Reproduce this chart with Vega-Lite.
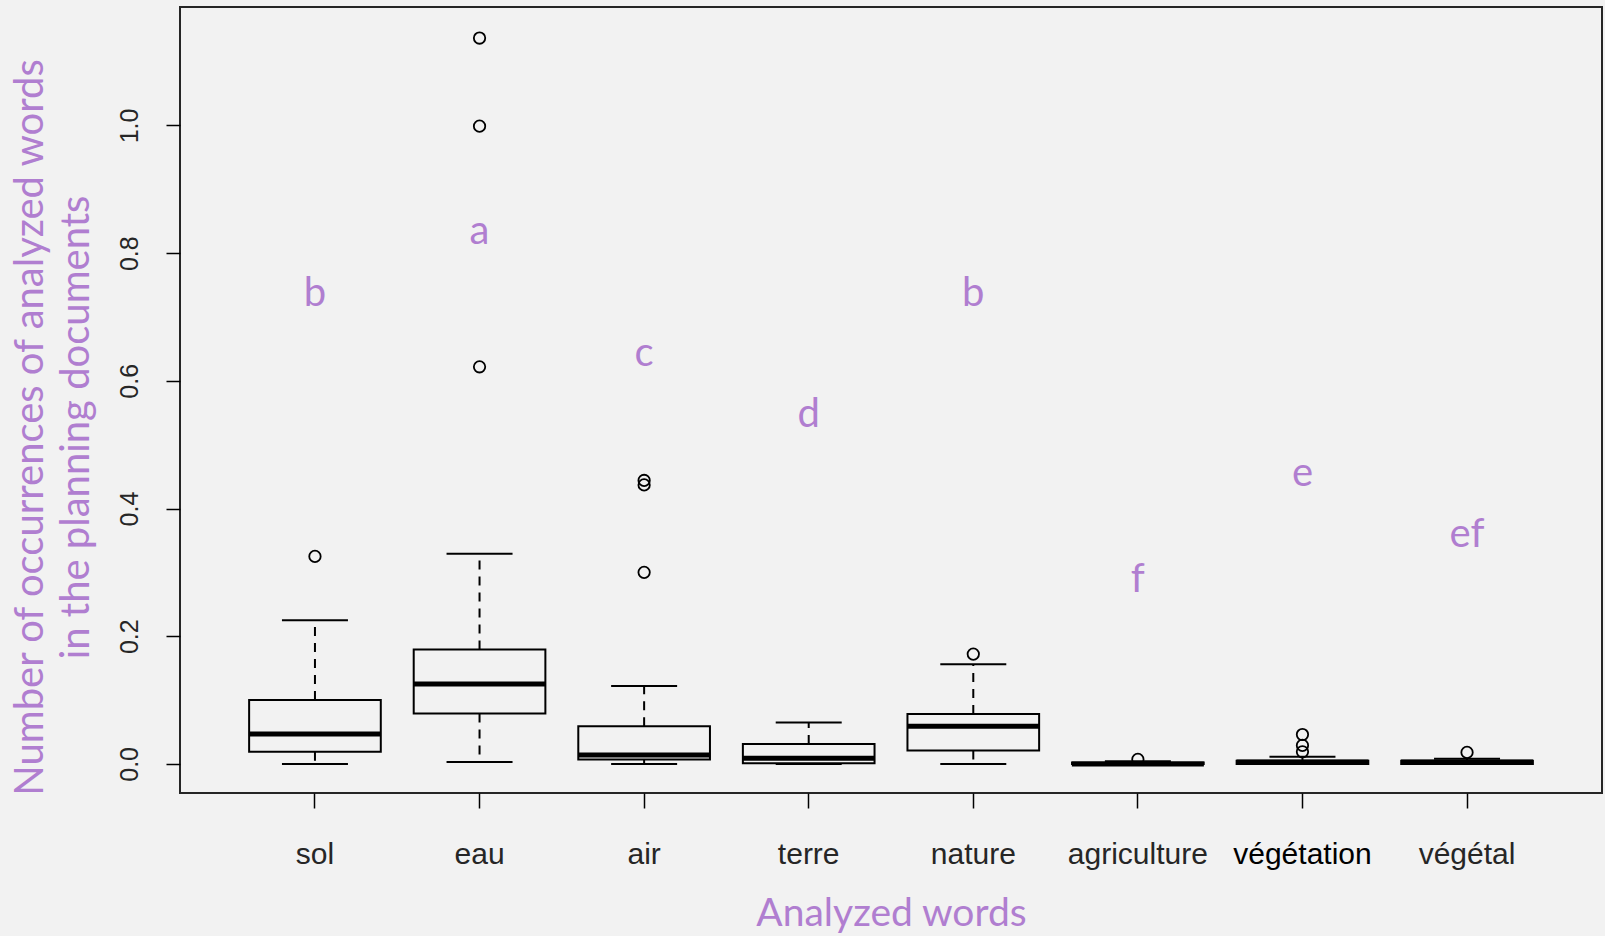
{
  "$schema": "https://vega.github.io/schema/vega-lite/v6.json",
  "width": 1422,
  "height": 786,
  "autosize": {"type": "none"},
  "padding": {"left": 180, "top": 7, "right": 3, "bottom": 143},
  "background": "#f2f2f2",
  "config": {
    "view": {"stroke": "#262626", "strokeWidth": 2},
    "axis": {"grid": false, "domain": false, "tickColor": "#000", "tickWidth": 1.5, "labelFont": "Liberation Sans", "labelColor": "#262626", "titleFont": "Lato", "titleFontWeight": "normal", "titleColor": "#B07ED0"}
  },
  "datasets": {
    "boxes": [
      {"word": "sol", "min": 0.0, "q1": 0.019, "median": 0.047, "q3": 0.100, "max": 0.225, "letter": "b", "letterY": 0.718},
      {"word": "eau", "min": 0.003, "q1": 0.079, "median": 0.125, "q3": 0.179, "max": 0.329, "letter": "a", "letterY": 0.814},
      {"word": "air", "min": 0.0, "q1": 0.007, "median": 0.014, "q3": 0.059, "max": 0.122, "letter": "c", "letterY": 0.623},
      {"word": "terre", "min": 0.0, "q1": 0.001, "median": 0.009, "q3": 0.031, "max": 0.065, "letter": "d", "letterY": 0.528},
      {"word": "nature", "min": 0.0, "q1": 0.021, "median": 0.059, "q3": 0.078, "max": 0.156, "letter": "b", "letterY": 0.718},
      {"word": "agriculture", "min": 0.0, "q1": 0.0, "median": 0.0, "q3": 0.002, "max": 0.004, "letter": "f", "letterY": 0.270},
      {"word": "végétation", "min": 0.0, "q1": 0.0, "median": 0.003, "q3": 0.005, "max": 0.011, "letter": "e", "letterY": 0.435},
      {"word": "végétal", "min": 0.0, "q1": 0.0, "median": 0.003, "q3": 0.005, "max": 0.008, "letter": "ef", "letterY": 0.340}
    ],
    "outliers": [
      {"word": "sol", "value": 0.325},
      {"word": "eau", "value": 1.137},
      {"word": "eau", "value": 0.999},
      {"word": "eau", "value": 0.622},
      {"word": "air", "value": 0.300},
      {"word": "air", "value": 0.437},
      {"word": "air", "value": 0.444},
      {"word": "nature", "value": 0.172},
      {"word": "agriculture", "value": 0.007},
      {"word": "végétation", "value": 0.019},
      {"word": "végétation", "value": 0.029},
      {"word": "végétation", "value": 0.046},
      {"word": "végétal", "value": 0.018}
    ]
  },
  "encoding": {
    "x": {
      "field": "word",
      "type": "nominal",
      "sort": ["sol", "eau", "air", "terre", "nature", "agriculture", "végétation", "végétal"],
      "scale": {"paddingInner": 0.2, "paddingOuter": 0.42},
      "axis": {
        "title": "Analyzed words",
        "titleFontSize": 39,
        "titlePadding": 25,
        "labelAngle": 0,
        "labelFontSize": 30,
        "labelBaseline": "alphabetic",
        "labelPadding": 55,
        "tickSize": 15,
        "labelColor": {"condition": {"test": "datum.value === 'végétation'", "value": "#000000"}, "value": "#262626"}
      }
    }
  },
  "layer": [
    {
      "data": {"name": "boxes"},
      "mark": {"type": "rule", "stroke": "#000", "strokeWidth": 2, "opacity": 1, "strokeDash": [9, 7]},
      "encoding": {
        "y": {
          "field": "q3",
          "type": "quantitative",
          "scale": {"domain": [-0.0456, 1.1856], "nice": false, "zero": false},
          "axis": {
            "title": ["Number of occurrences of analyzed words", "in the planning documents"],
            "titleFontSize": 40,
            "titleLineHeight": 46,
            "titlePadding": 21,
            "titleY": 420,
            "values": [0, 0.2, 0.4, 0.6, 0.8, 1.0],
            "format": ".1f",
            "labelAngle": -90,
            "labelAlign": "center",
            "labelBaseline": "alphabetic",
            "labelFontSize": 25,
            "labelPadding": 29,
            "tickSize": 14
          }
        },
        "y2": {"field": "max"}
      }
    },
    {
      "data": {"name": "boxes"},
      "mark": {"type": "rule", "stroke": "#000", "strokeWidth": 2, "opacity": 1, "strokeDash": [9, 7]},
      "encoding": {
        "y": {"field": "q1", "type": "quantitative"},
        "y2": {"field": "min"}
      }
    },
    {
      "data": {"name": "boxes"},
      "mark": {"type": "tick", "orient": "horizontal", "color": "#000", "opacity": 1, "size": 66, "thickness": 2},
      "encoding": {"y": {"field": "max", "type": "quantitative"}}
    },
    {
      "data": {"name": "boxes"},
      "mark": {"type": "tick", "orient": "horizontal", "color": "#000", "opacity": 1, "size": 66, "thickness": 2},
      "encoding": {"y": {"field": "min", "type": "quantitative"}}
    },
    {
      "data": {"name": "boxes"},
      "mark": {"type": "bar", "fill": "#f2f2f2", "stroke": "#000", "strokeWidth": 2, "opacity": 1},
      "encoding": {
        "y": {"field": "q3", "type": "quantitative"},
        "y2": {"field": "q1"}
      }
    },
    {
      "data": {"name": "boxes"},
      "mark": {"type": "tick", "orient": "horizontal", "color": "#000", "opacity": 1, "size": 132, "thickness": 5},
      "encoding": {"y": {"field": "median", "type": "quantitative"}}
    },
    {
      "data": {"name": "outliers"},
      "mark": {"type": "point", "shape": "circle", "filled": false, "stroke": "#000", "strokeWidth": 1.8, "size": 130, "opacity": 1},
      "encoding": {"y": {"field": "value", "type": "quantitative"}}
    },
    {
      "data": {"name": "boxes"},
      "mark": {"type": "text", "font": "Lato", "fontSize": 40, "color": "#B07ED0", "baseline": "alphabetic", "align": "center"},
      "encoding": {
        "y": {"field": "letterY", "type": "quantitative"},
        "text": {"field": "letter"}
      }
    }
  ]
}
